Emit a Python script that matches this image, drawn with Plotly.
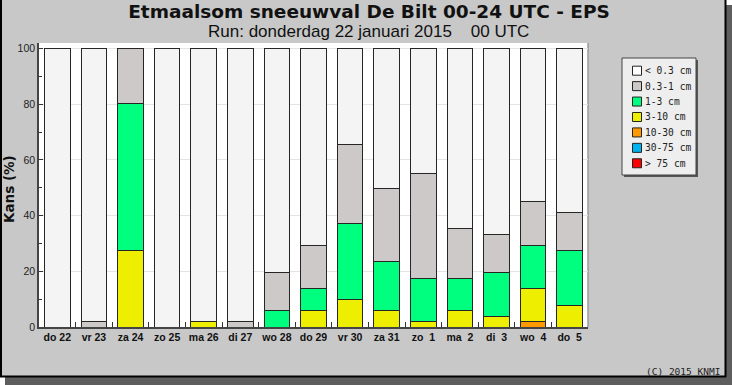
import plotly.graph_objects as go

categories = ["do 22", "vr 23", "za 24", "zo 25", "ma 26", "di 27", "wo 28", "do 29",
              "vr 30", "za 31", "zo\u00a0 1", "ma\u00a0 2", "di\u00a0 3", "wo\u00a0 4", "do\u00a0 5"]

series_names = ["< 0.3 cm", "0.3-1 cm", "1-3 cm", "3-10 cm", "10-30 cm", "30-75 cm", "> 75 cm"]
series_colors = ["#f4f4f4", "#cdc9c9", "#00ff7f", "#eeee00", "#ff9900", "#00b2ee", "#ff0000"]

lt_0_3 = [100, 98.0, 0, 100, 98.0, 98.0, 80.4, 70.6, 34.3, 50.1, 45.0, 64.7, 66.7, 54.9, 58.8]
r0_3_1 = [0, 2.0, 19.6, 0, 0, 2.0, 13.7, 15.7, 28.4, 26.4, 37.4, 17.7, 13.7, 15.7, 13.7]
r1_3 = [0, 0, 52.9, 0, 0, 0, 5.9, 7.8, 27.5, 17.6, 15.6, 11.7, 15.7, 15.7, 19.7]
r3_10 = [0, 0, 27.5, 0, 2.0, 0, 0, 5.9, 9.8, 5.9, 2.0, 5.9, 3.9, 11.7, 7.8]
r10_30 = [0, 0, 0, 0, 0, 0, 0, 0, 0, 0, 0, 0, 0, 2.0, 0]
r30_75 = [0, 0, 0, 0, 0, 0, 0, 0, 0, 0, 0, 0, 0, 0, 0]
gt_75 = [0, 0, 0, 0, 0, 0, 0, 0, 0, 0, 0, 0, 0, 0, 0]

series_values = [lt_0_3, r0_3_1, r1_3, r3_10, r10_30, r30_75, gt_75]

W, H = 732, 385
L, R, T, B = 39, 588, 43, 327


def px(x):
    return (x - L) / (R - L)


def py(y):
    return (B - y) / (B - T)


fig = go.Figure()
# stack bottom-up: > 75 first
for name, color, vals in reversed(list(zip(series_names, series_colors, series_values))):
    fig.add_trace(go.Bar(
        x=categories, y=vals, name=name,
        marker=dict(color=color, line=dict(color="#262626", width=1.0)),
        showlegend=False,
    ))

shapes = []
# shadow
shapes.append(dict(type="rect", xref="paper", yref="paper", layer="below",
                   x0=px(5), x1=px(732), y0=py(385), y1=py(5),
                   fillcolor="#5e5e5e", line=dict(width=0)))
# panel
shapes.append(dict(type="rect", xref="paper", yref="paper", layer="below",
                   x0=px(0), x1=px(726), y0=py(377), y1=py(0),
                   fillcolor="#c8c8c8", line=dict(width=0)))
for (x0, y0, x1, y1) in [(1, 0, 1, 377), (725.5, 0, 725.5, 377), (0, 376.5, 726, 376.5)]:
    shapes.append(dict(type="line", xref="paper", yref="paper", layer="below",
                       x0=px(x0), x1=px(x1), y0=py(y0), y1=py(y1),
                       line=dict(color="#000000", width=2)))
# plot area
shapes.append(dict(type="rect", xref="paper", yref="paper", layer="below",
                   x0=0, x1=1, y0=0, y1=1, fillcolor="#ffffff", line=dict(width=0)))
shapes.append(dict(type="line", xref="paper", yref="paper", layer="below",
                   x0=1, x1=1, y0=0, y1=1, line=dict(color="#9a9a9a", width=1.5)))

# legend box
lx0, lx1, ly0, ly1 = 622, 696, 58, 175
shapes.append(dict(type="rect", xref="paper", yref="paper", layer="above",
                   x0=px(lx0 + 2), x1=px(lx1 + 2), y0=py(ly1 + 2), y1=py(ly0 + 2),
                   fillcolor="#555555", line=dict(width=0)))
shapes.append(dict(type="rect", xref="paper", yref="paper", layer="above",
                   x0=px(lx0), x1=px(lx1), y0=py(ly1), y1=py(ly0),
                   fillcolor="#eeeeee", line=dict(color="#444444", width=1)))

annotations = []
item_y0, item_dy = 70.7, 15.43
for i, (name, color) in enumerate(zip(series_names, series_colors)):
    cy = item_y0 + i * item_dy
    legend_fill = "#ffffff" if i == 0 else color
    shapes.append(dict(type="rect", xref="paper", yref="paper", layer="above",
                       x0=px(632.5), x1=px(641.5), y0=py(cy + 4.5), y1=py(cy - 4.5),
                       fillcolor=legend_fill, line=dict(color="#222222", width=1)))
    annotations.append(dict(xref="paper", yref="paper", x=px(643), y=py(cy),
                            xanchor="left", yanchor="middle", showarrow=False,
                            text=name.replace(" ", "\u00a0"),
                            font=dict(family="DejaVu Sans Mono", size=9.6, color="#222222")))

# subtitle
annotations.append(dict(xref="paper", yref="paper", x=px(368), y=py(31),
                        xanchor="center", yanchor="middle", showarrow=False,
                        text="Run: donderdag 22 januari 2015\u00a0\u00a0\u00a0 00 UTC",
                        font=dict(family="Liberation Sans", size=17, color="#111111")))
# y axis title
annotations.append(dict(xref="paper", yref="paper", x=px(9), y=py(189),
                        xanchor="center", yanchor="middle", showarrow=False, textangle=-90,
                        text="Kans (%)",
                        font=dict(family="DejaVu Sans", size=13.5, color="#111111", weight="bold")))
# copyright
annotations.append(dict(xref="paper", yref="paper", x=px(722), y=py(371),
                        xanchor="right", yanchor="middle", showarrow=False,
                        text="(C) 2015 KNMI",
                        font=dict(family="DejaVu Sans Mono", size=9.5, color="#222222")))

fig.update_layout(
    width=W, height=H, autosize=False,
    margin=dict(l=L, r=W - R, t=T, b=H - B, pad=0),
    paper_bgcolor="#ffffff", plot_bgcolor="#ffffff",
    barmode="stack", bargap=0.3,
    title=dict(text="Etmaalsom sneeuwval De Bilt 00-24 UTC - EPS",
               x=369 / W, xref="container", xanchor="center",
               y=1 - 11.5 / H, yref="container", yanchor="middle",
               font=dict(family="DejaVu Sans", size=18.5, color="#111111", weight="bold")),
    shapes=shapes, annotations=annotations,
    xaxis=dict(type="category", categoryorder="array", categoryarray=categories,
               range=[-0.5, len(categories) - 0.5], tickangle=0,
               tickson="boundaries", ticks="inside", ticklen=5, tickcolor="#333333",
               showline=True, linecolor="#444444", linewidth=1.5, showgrid=False,
               tickfont=dict(family="Liberation Sans", size=10.5, color="#111111", weight="bold")),
    yaxis=dict(range=[0, 102], tick0=0, dtick=20, ticks="inside", ticklen=4,
               tickcolor="#333333", showline=True, linecolor="#444444", linewidth=1.5,
               showgrid=True, gridcolor="#e4e4e4", gridwidth=1, zeroline=False,
               minor=dict(dtick=10, ticks="inside", ticklen=3, tickcolor="#333333", showgrid=False),
               tickfont=dict(family="Liberation Sans", size=10.5, color="#222222")),
)

fig.write_html("out.html", config={"displayModeBar": False},
               post_script="document.body.style.margin='0';document.body.style.overflow='hidden';")
